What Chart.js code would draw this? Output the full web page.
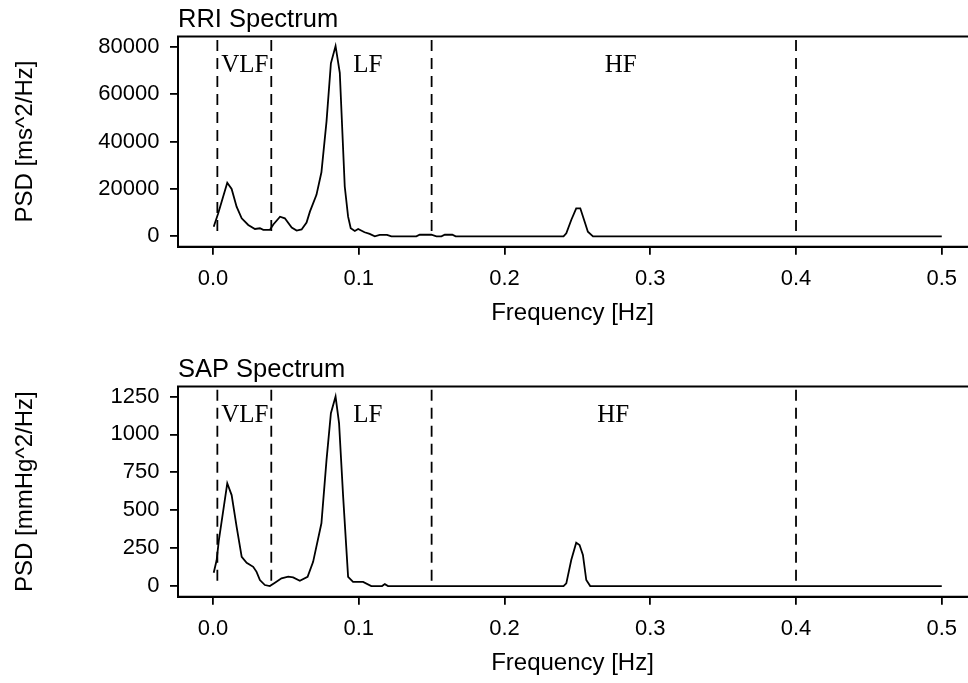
<!DOCTYPE html>
<html>
<head>
<meta charset="utf-8">
<script src="https://cdn.jsdelivr.net/npm/chart.js@4.4.1/dist/chart.umd.min.js"></script>
<style>
  html, body { margin: 0; padding: 0; background: #fff; overflow: hidden; }
  .panel { position: absolute; left: 0; width: 968px; height: 350px; }
</style>
</head>
<body>
<div class="panel" style="top:0"><canvas id="rriChart" width="968" height="350"></canvas></div>
<div class="panel" style="top:350px"><canvas id="sapChart" width="968" height="350"></canvas></div>
<script>
// PSD curves (frequency in Hz)
var rriFreq = [0.0005, 0.0036, 0.0098, 0.0128, 0.0162, 0.0197, 0.0242, 0.0288, 0.0322, 0.0345, 0.039,
  0.0414, 0.046, 0.0493, 0.054, 0.0574, 0.0608, 0.0642, 0.0665, 0.071, 0.0744, 0.0779, 0.0809, 0.0841,
  0.087, 0.0904, 0.0927, 0.0945, 0.0973, 0.0996, 0.104, 0.1075, 0.111, 0.1144, 0.1194, 0.1224, 0.1395,
  0.1418, 0.1498, 0.1533, 0.1567, 0.159, 0.1642, 0.1665, 0.2405, 0.2424, 0.2458, 0.2492, 0.252, 0.255,
  0.2572, 0.2607, 0.367, 0.5];
var rriPsd = [4050, 9700, 22600, 20000, 12500, 7600, 4800, 3100, 3400, 2700, 2700,
  5000, 8270, 7600, 3700, 2400, 2900, 5800, 10400, 17500, 27000, 48500, 73000, 80300,
  69000, 21000, 8270, 3400, 2240, 3100, 1700, 1000, 0, 600, 600, 0, 0,
  650, 650, 0, 0, 650, 650, 0, 0, 1270, 6880, 11800, 11800, 6160,
  1940, 0, 0, 0];

var sapFreq = [0.0005, 0.0025, 0.004, 0.0098, 0.0128, 0.0162, 0.0197, 0.0231, 0.0276, 0.0299, 0.0322,
  0.0356, 0.039, 0.0425, 0.047, 0.0516, 0.055, 0.0596, 0.0649, 0.0687, 0.0744, 0.0779, 0.0809, 0.0841,
  0.0865, 0.0893, 0.0927, 0.0961, 0.103, 0.1086, 0.116, 0.1179, 0.1201, 0.2405, 0.2424, 0.2458, 0.2492,
  0.2515, 0.2538, 0.2561, 0.2588, 0.5];
var sapPsd = [88, 170, 300, 678, 600, 392, 193, 154, 127, 94, 40,
  7, 0, 22, 51, 62, 57, 35, 61, 160, 414, 832, 1140, 1250,
  1074, 590, 61, 28, 28, 0, 0, 13, 0, 0, 18, 172, 286,
  271, 205, 40, 0, 0];

var bandEdges = [0.003, 0.04, 0.15, 0.4];
var bandNames = ['VLF', 'LF', 'HF'];
var freqTicks = [0, 0.1, 0.2, 0.3, 0.4, 0.5];
var rriTicks = [0, 20000, 40000, 60000, 80000];
var sapTicks = [0, 250, 500, 750, 1000, 1250];

Chart.defaults.color = '#000';
Chart.defaults.font.family = "'Liberation Sans', Arial, Helvetica, sans-serif";

function toPoints(xs, ys) {
  return xs.map(function (x, i) { return { x: x, y: ys[i] }; });
}

// VLF / LF / HF captions
var bandText = {
  id: 'bandText',
  afterDatasetsDraw: function (chart, args, opts) {
    var ctx = chart.ctx, xs = chart.scales.x, ys = chart.scales.y;
    ctx.save();
    ctx.font = '25px "Liberation Serif", "Times New Roman", serif';
    ctx.fillStyle = '#000';
    ctx.textAlign = 'center';
    ctx.textBaseline = 'alphabetic';
    bandNames.forEach(function (name, i) {
      ctx.fillText(name, xs.getPixelForValue(opts.x[i]), ys.getPixelForValue(opts.y));
    });
    ctx.restore();
  }
};

// box round the plot region (right side runs off the page)
var frame = {
  id: 'frame',
  afterDraw: function (chart) {
    var a = chart.chartArea, ctx = chart.ctx;
    ctx.save();
    ctx.strokeStyle = '#000';
    ctx.lineWidth = 2;
    ctx.beginPath();
    ctx.moveTo(chart.width + 2, a.top);
    ctx.lineTo(a.left, a.top);
    ctx.lineTo(a.left, a.bottom);
    ctx.lineTo(chart.width + 2, a.bottom);
    ctx.stroke();
    ctx.restore();
  }
};

function makeChart(id, title, yTitle, freq, psd, yMin, yMax, yTicks, dashTop, labelX, labelY) {
  var datasets = [{
    data: toPoints(freq, psd),
    borderColor: '#000',
    borderWidth: 1.8,
    pointRadius: 0,
    tension: 0,
    fill: false
  }];
  bandEdges.forEach(function (e) {
    datasets.push({
      data: [{ x: e, y: dashTop }, { x: e, y: 0 }],
      borderColor: '#000',
      borderWidth: 1.8,
      borderDash: [11, 7],
      pointRadius: 0,
      fill: false
    });
  });

  var ctx = document.getElementById(id).getContext('2d');
  return new Chart(ctx, {
    type: 'line',
    data: { datasets: datasets },
    plugins: [frame, bandText],
    options: {
      responsive: false,
      animation: false,
      layout: { padding: 0 },
      plugins: {
        legend: { display: false },
        tooltip: { enabled: false },
        title: {
          display: true,
          text: title,
          align: 'start',
          fullSize: false,
          font: { size: 25.5, weight: 'normal' },
          padding: { top: 4.5, bottom: 1.4 }
        },
        bandText: { x: labelX, y: labelY }
      },
      scales: {
        x: {
          type: 'linear',
          min: -0.024,
          max: 0.5173,
          afterBuildTicks: function (scale) {
            scale.ticks = freqTicks.map(function (v) { return { value: v }; });
          },
          afterFit: function (scale) { scale.height = 103.3; },
          ticks: {
            font: { size: 22 },
            padding: 10.9,
            maxRotation: 0,
            callback: function (v) { return v.toFixed(1); }
          },
          grid: { drawOnChartArea: false, drawTicks: true, tickLength: 8, color: '#000', lineWidth: 1.8 },
          border: { display: true, color: '#000', width: 2 },
          title: { display: true, text: 'Frequency [Hz]', font: { size: 24 }, padding: { top: 0, bottom: 22.6 } }
        },
        y: {
          min: yMin,
          max: yMax,
          afterBuildTicks: function (scale) {
            scale.ticks = yTicks.map(function (v) { return { value: v }; });
          },
          afterFit: function (scale) { scale.width = 178; },
          ticks: {
            font: { size: 22 },
            padding: 10.5,
            callback: function (v) { return String(v); }
          },
          grid: { drawOnChartArea: false, drawTicks: true, tickLength: 8, color: '#000', lineWidth: 1.8 },
          border: { display: true, color: '#000', width: 2 },
          title: { display: true, text: yTitle, font: { size: 24 }, padding: { top: 10.6, bottom: 0 } }
        }
      }
    }
  });
}

var rriChart = makeChart('rriChart', 'RRI Spectrum', 'PSD [ms^2/Hz]', rriFreq, rriPsd,
  -4390, 84300, rriTicks, 82820, [0.0219, 0.1062, 0.2797], 69190);
var sapChart = makeChart('sapChart', 'SAP Spectrum', 'PSD [mmHg^2/Hz]', sapFreq, sapPsd,
  -70, 1316, sapTicks, 1294, [0.0219, 0.1062, 0.2746], 1081);
</script>
</body>
</html>
